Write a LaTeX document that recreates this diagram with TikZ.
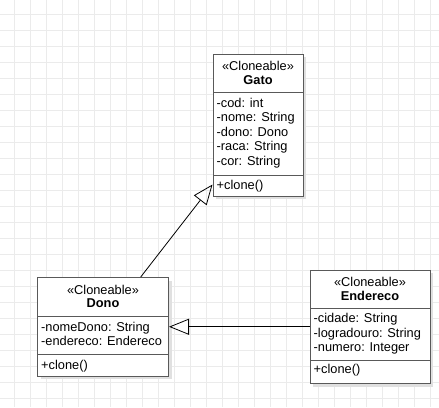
\documentclass[tikz,border=0pt]{standalone}
\usepackage{fontspec}
\setmainfont{Liberation Sans}
\usetikzlibrary{arrows.meta,shadows}
\definecolor{umlgray}{HTML}{595959}
\definecolor{gridgray}{HTML}{EBEBEB}

\begin{document}
\begin{tikzpicture}[x=1pt,y=-1pt,>={Triangle[open,length=20pt,width=16pt]},classbox/.style={draw=umlgray, line width=1pt, fill=white, inner sep=0pt, drop shadow={shadow xshift=3pt, shadow yshift=-3pt, fill=black!12, opacity=1}},sepline/.style={draw=umlgray, line width=1pt},stereo/.style={font=\fontsize{12.8}{14.6}\selectfont, inner sep=0pt},cname/.style={font=\fontsize{12.8}{14.6}\selectfont\bfseries, inner sep=0pt},members/.style={font=\fontsize{12.8}{14.6}\selectfont, align=left, anchor=west, inner sep=0pt},relation/.style={->, line width=0.8pt}]
\useasboundingbox (0,0) rectangle (439,407);
\fill[white] (0,0) rectangle (439,407);
\foreach \k in {0,...,27} {\draw[gridgray, line width=0.8pt] ({14.7+16*\k},0) -- ({14.7+16*\k},407); \draw[gridgray, line width=0.8pt] (0,{14.7+16*\k}) -- (439,{14.7+16*\k});}
% classes
\node[classbox, minimum width=90pt, minimum height=142pt] (gato) at (258,125) {};
\node[classbox, minimum width=131pt, minimum height=98.5pt] (dono) at (103,326.75) {};
\node[classbox, minimum width=120pt, minimum height=113.5pt] (endereco) at (370,326.75) {};
\draw[sepline] (213,92) -- (303,92); \draw[sepline] (213,175) -- (303,175);
\draw[sepline] (37.5,316) -- (168.5,316); \draw[sepline] (37.5,354) -- (168.5,354);
\draw[sepline] (310,308.5) -- (430,308.5); \draw[sepline] (310,360) -- (430,360);
\node[stereo] (gatoSt) at (258,66) {«Cloneable»}; \node[cname] (gatoName) at (258,80) {Gato};
\node[members] (gatoAttr) at (216.5,133) {-cod: int\\-nome: String\\-dono: Dono\\-raca: String\\-cor: String};
\node[members] (gatoOps) at (216.5,186) {+clone()};
\node[stereo] (donoSt) at (103,289.5) {«Cloneable»}; \node[cname] (donoName) at (103,303.5) {Dono};
\node[members] (donoAttr) at (41,334) {-nomeDono: String\\-endereco: Endereco};
\node[members] (donoOps) at (41,366) {+clone()};
\node[stereo] (endSt) at (370,282) {«Cloneable»}; \node[cname] (endName) at (370,296) {Endereco};
\node[members] (endAttr) at (313.5,334) {-cidade: String\\-logradouro: String\\-numero: Integer};
\node[members] (endOps) at (313.5,370.5) {+clone()};
% relations
\draw[relation] ([xshift=37.7pt]dono.north) -- ([yshift=12pt]gato.south west);
\draw[relation] (endereco) -- (dono);
\end{tikzpicture}
\end{document}
